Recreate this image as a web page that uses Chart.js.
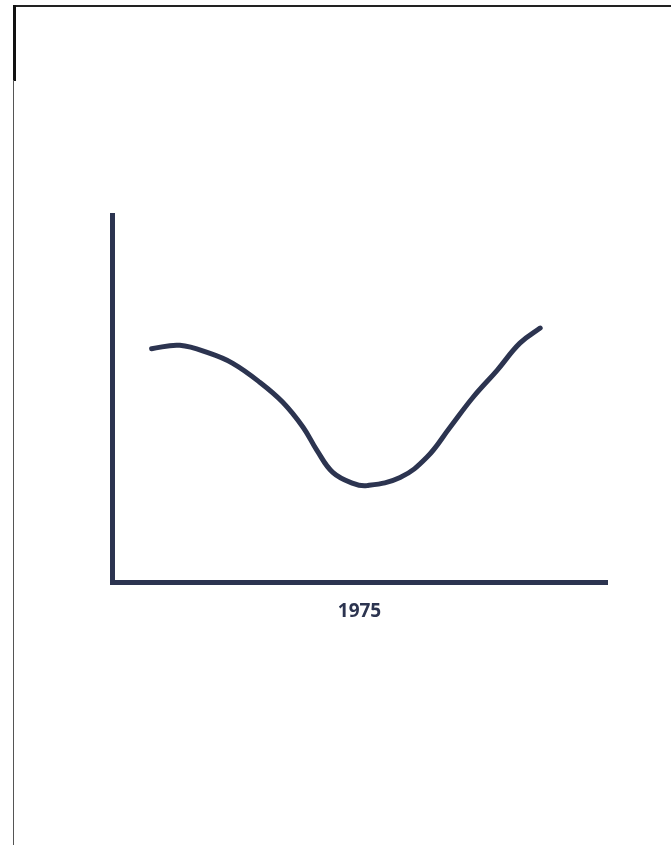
<!DOCTYPE html>
<html>
<head>
<meta charset="utf-8">
<script src="https://cdn.jsdelivr.net/npm/chart.js@4"></script>
<style>
  html, body { margin: 0; padding: 0; background: #fff; }
  #page { position: relative; width: 671px; height: 845px; overflow: hidden; }
  /* scanned page edges */
  #edgeTop { position: absolute; left: 13px; top: 5px; width: 658px; height: 2px; background: #222; }
  #edgeLeftThick { position: absolute; left: 13px; top: 5px; width: 3px; height: 76px; background: #111; }
  #edgeLeft { position: absolute; left: 13px; top: 80px; width: 1px; height: 765px; background: #555; }
  #wrap { position: absolute; left: 0; top: 0; width: 671px; height: 845px; }
</style>
</head>
<body>
<div id="page">
  <div id="edgeTop"></div>
  <div id="edgeLeftThick"></div>
  <div id="edgeLeft"></div>
  <div id="wrap"><canvas id="myChart"></canvas></div>
</div>
<script>
// hand-drawn curve (0-100 on both axes)
const xValues = [8.0, 13.7, 19.8, 24.4, 29.9, 34.5, 38.6, 41.4, 44.6, 48.7, 51.5, 58.2, 63.6, 68.3, 72.9, 77.8, 82.4, 86.5];
const yValues = [63.6, 64.5, 62.3, 59.6, 54.4, 49.0, 42.2, 35.9, 29.9, 26.9, 26.3, 28.5, 34.0, 42.2, 50.3, 57.7, 65.1, 69.2];
const xTitle = '1975';

const ink = '#2c3450';

const points = xValues.map(function (x, i) {
    return { x: x, y: yValues[i] };
});

const config = {
    type: 'line',
    data: {
        datasets: [{
            data: points,
            borderColor: ink,
            borderWidth: 5,
            borderCapStyle: 'round',
            borderJoinStyle: 'round',
            tension: 0.4,
            pointRadius: 0,
            fill: false
        }]
    },
    options: {
        responsive: false,
        animation: false,
        layout: {
            padding: { left: 104, top: 215, right: 64, bottom: 222 }
        },
        plugins: {
            legend: { display: false },
            tooltip: { enabled: false }
        },
        scales: {
            x: {
                type: 'linear',
                min: 0,
                max: 100,
                ticks: { display: false },
                grid: { display: false },
                border: { display: true, color: ink, width: 5 },
                title: {
                    display: true,
                    text: xTitle,
                    color: ink,
                    font: { family: 'Open Sans', size: 19, weight: 'bold' },
                    padding: { top: 10, bottom: 0 }
                }
            },
            y: {
                min: 0,
                max: 100,
                ticks: { display: false },
                grid: { display: false },
                border: { display: true, color: ink, width: 5 }
            }
        }
    }
};

const canvas = document.getElementById('myChart');
canvas.width = 671;
canvas.height = 845;
const myChart = new Chart(canvas, config);
</script>
</body>
</html>
